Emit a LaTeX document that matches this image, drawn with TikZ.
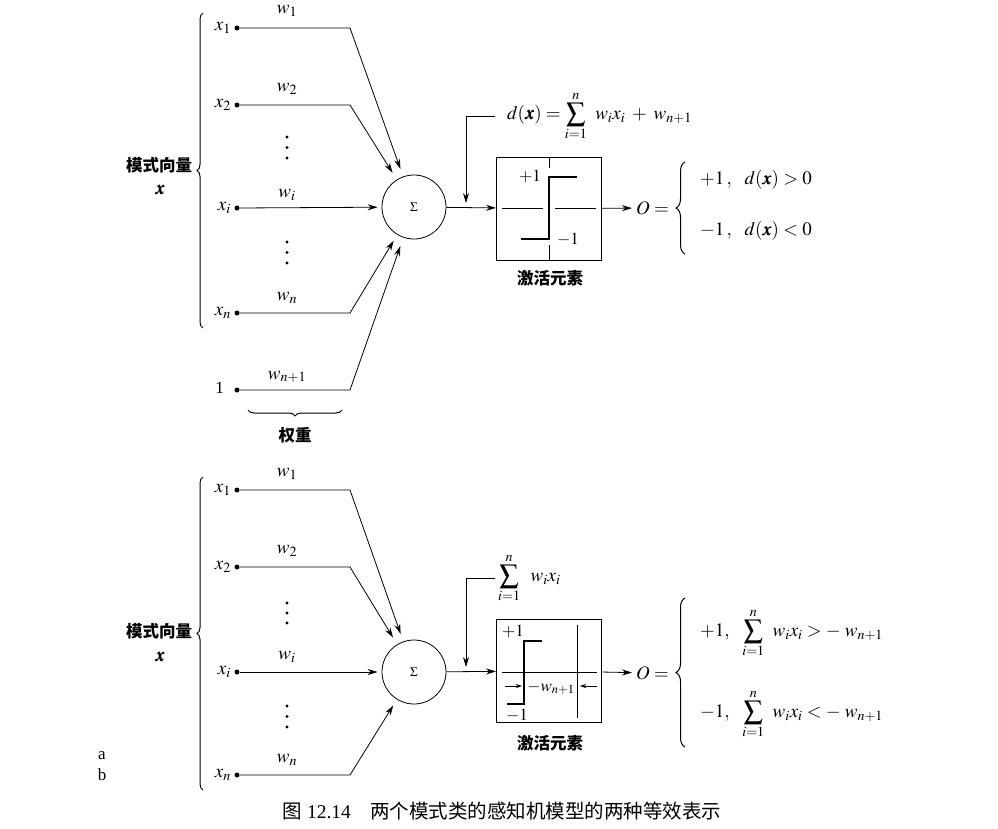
\RequirePackage{fix-cm}
\documentclass[tikz,border=0pt]{standalone}
\usepackage{amsmath}
\IfFileExists{newtxmath.sty}{\usepackage{newtxmath}}{\IfFileExists{mathptmx.sty}{\usepackage{mathptmx}}{}}
\usepackage{bm}
\usepackage[no-math]{fontspec}
\setmainfont{Liberation Serif}
\newfontfamily\cjk{Noto Sans CJK SC}
\usetikzlibrary{arrows.meta,decorations.pathreplacing,calc}
\begin{document}
\begin{tikzpicture}[x=1pt,y=-1pt,
  ln/.style={line width=0.8pt},
  arr/.style={ln,-{Stealth[length=10pt,width=6pt]}},
  sarr/.style={line width=0.7pt,-{Stealth[length=6pt,width=4pt]}},
  dotn/.style={circle,fill,inner sep=0pt,minimum size=5pt},
  m/.style={font=\fontsize{19}{22}\selectfont,inner sep=0pt},
  ms/.style={font=\fontsize{17}{20}\selectfont,inner sep=0pt},
  cjkl/.style={font=\fontsize{16.5}{19}\selectfont\cjk\bfseries,inner sep=0pt},
  brc/.style={decorate,decoration={brace,amplitude=6pt},line width=1pt},
  bbrc/.style={decorate,decoration={brace,amplitude=9pt},line width=1pt},
  sumc/.style={circle,draw,line width=0.8pt,minimum size=64pt,inner sep=0pt},
  boxn/.style={draw,line width=1pt,minimum width=105pt,minimum height=103pt,inner sep=0pt},
  thk/.style={line width=1.8pt},
  vd/.style={circle,fill,inner sep=0pt,minimum size=3.4pt}
]
\useasboundingbox[fill=white] (0,0) rectangle (998,828);

%================ TOP =================
\node[dotn] (ta1) at (237,28) {};
\node[dotn] (ta2) at (237,105) {};
\node[dotn] (tai) at (237,208) {};
\node[dotn] (tan) at (237,313) {};
\node[dotn] (tab) at (237,390) {};
\node[m,anchor=east] (tl1) at (231,28) {$x_1$};
\node[m,anchor=east] (tl2) at (231,105) {$x_2$};
\node[m,anchor=east] (tli) at (231,208) {$x_i$};
\node[m,anchor=east] (tln) at (231,313) {$x_n$};
\node[ms,anchor=east] (tlb) at (224,388) {1};
\node[m] (tw1) at (287,11) {$w_1$};
\node[m] (tw2) at (287,89) {$w_2$};
\node[m] (twi) at (287,195) {$w_i$};
\node[m] (twn) at (287,298) {$w_n$};
\node[m] (twb) at (287,377) {$w_{n+1}$};
\node[vd] (tv1) at (287,137) {};
\node[vd] (tv2) at (287,147.5) {};
\node[vd] (tv3) at (287,158) {};
\node[vd] (tv4) at (287,242) {};
\node[vd] (tv5) at (287,252.5) {};
\node[vd] (tv6) at (287,263) {};

\node[sumc] (ts) at (414,207) {\fontsize{13}{15}\selectfont$\Sigma$};
\draw[arr,shorten >=8pt] (ta1) -- (350,28) -- (ts);
\draw[arr,shorten >=8pt] (ta2) -- (350,105) -- (ts);
\draw[arr,shorten >=4pt] (tai) -- (ts);
\draw[arr,shorten >=7pt] (tan) -- (350,313) -- (ts);
\draw[arr,shorten >=9pt] (tab) -- (350,390) -- (ts);

\draw[brc] (203,328) -- (203,13);
\node[cjkl] (tpv) at (159,165) {模式向量};
\node[m] (tpx) at (160,190) {$\bm{x}$};
\draw[brc] (342,410) -- (248,410);
\node[cjkl] (tqz) at (295,435) {权重};

\node[boxn] (tb) at (549,208.5) {};
\draw[ln] (502,208) -- (543,208);
\draw[ln] (555,208) -- (596,208);
\draw[ln] (549,157) -- (549,168);
\draw[ln] (549,245) -- (549,260);
\draw[thk] (521,239) -- (549,239) -- (549,177) -- (577,177);
\node[ms] (tp1) at (530,177) {$+1$};
\node[ms] (tm1) at (568,240) {$-1$};
\node[cjkl] (tact) at (550,278) {激活元素};

\draw[arr] (ts) -- (tb);
\node[m,anchor=west,inner xsep=12pt] (tf) at (495,116)
  {$d(\bm{x}) = \displaystyle\sum_{i=1}^{n}\;\, w_i x_i \;+\; w_{n+1}$};
\coordinate (tj) at (466,208);
\draw[arr,shorten >=5pt] (tf.west) -| (tj);

\node[m,anchor=west] (to) at (636,208) {$O =$};
\draw[arr,shorten >=4pt] (tb) -- (to);
\draw[bbrc] (685,254) -- (685,162);
\node[m,anchor=west] (tc1) at (700,180) {$+1\,,\;\;\, d(\bm{x}) > 0$};
\node[m,anchor=west] (tc2) at (700,231) {$-1\,,\;\;\, d(\bm{x}) < 0$};

%================ BOTTOM =================
\node[dotn] (ba1) at (237,490) {};
\node[dotn] (ba2) at (237,567) {};
\node[dotn] (bai) at (237,672) {};
\node[dotn] (ban) at (237,775) {};
\node[m,anchor=east] (bl1) at (231,490) {$x_1$};
\node[m,anchor=east] (bl2) at (231,567) {$x_2$};
\node[m,anchor=east] (bli) at (231,672) {$x_i$};
\node[m,anchor=east] (bln) at (231,775) {$x_n$};
\node[m] (bw1) at (287,474) {$w_1$};
\node[m] (bw2) at (287,551) {$w_2$};
\node[m] (bwi) at (287,657) {$w_i$};
\node[m] (bwn) at (287,760) {$w_n$};
\node[vd] (bv1) at (287,603) {};
\node[vd] (bv2) at (287,613) {};
\node[vd] (bv3) at (287,623) {};
\node[vd] (bv4) at (287,706) {};
\node[vd] (bv5) at (287,716.5) {};
\node[vd] (bv6) at (287,727) {};

\node[sumc] (bs) at (414,672) {\fontsize{13}{15}\selectfont$\Sigma$};
\draw[arr,shorten >=8pt] (ba1) -- (350,490) -- (bs);
\draw[arr,shorten >=8pt] (ba2) -- (350,567) -- (bs);
\draw[arr,shorten >=4pt] (bai) -- (bs);
\draw[arr,shorten >=7pt] (ban) -- (350,775) -- (bs);

\draw[brc] (203,790) -- (203,477);
\node[cjkl] (bpv) at (159,631) {模式向量};
\node[m] (bpx) at (160,657) {$\bm{x}$};

\node[boxn] (bb) at (549,671) {};
\draw[ln] (502,672) -- (597,672);
\draw[ln] (577,625) -- (577,718);
\draw[thk] (507,704) -- (524,704) -- (524,641) -- (542,641);
\node[ms] (bp1) at (513,631) {$+1$};
\node[ms] (bm1) at (517,716) {$-1$};
\node[ms] (bwt) at (551,688) {$-w_{n+1}$};
\coordinate (bal) at (505,686);
\coordinate (bar) at (597,686);
\draw[sarr] (bal) -- (522,686);
\draw[sarr] (bar) -- (580,686);
\node[cjkl] (bact) at (550,743) {激活元素};

\draw[arr] (bs) -- (bb);
\node[m,anchor=west,inner xsep=3pt] (bf) at (495,578)
  {$\displaystyle\sum_{i=1}^{n}\;\; w_i x_i$};
\coordinate (bj) at (466,672);
\draw[arr,shorten >=5pt] (bf.west) -| (bj);

\node[m,anchor=west] (bo) at (636,673) {$O =$};
\draw[arr,shorten >=4pt] (bb) -- (bo);
\draw[bbrc] (685,747) -- (685,598);
\node[m,anchor=west] (bc1) at (700,633)
  {$+1,\;\;\, \displaystyle\sum_{i=1}^{n}\;\, w_i x_i > -\; w_{n+1}$};
\node[m,anchor=west] (bc2) at (700,714)
  {$-1,\;\;\, \displaystyle\sum_{i=1}^{n}\;\, w_i x_i < -\; w_{n+1}$};

%================ labels / caption =================
\node[font=\fontsize{17}{19}\selectfont,inner sep=0pt] (la) at (102,756) {a};
\node[font=\fontsize{17}{19}\selectfont,inner sep=0pt] (lb) at (102,775) {b};
\node[font=\fontsize{19.5}{22}\selectfont,inner sep=0pt] (cap) at (502,811)
  {{\cjk 图}\ 12.14\quad{\cjk 两个模式类的感知机模型的两种等效表示}};
\end{tikzpicture}
\end{document}
